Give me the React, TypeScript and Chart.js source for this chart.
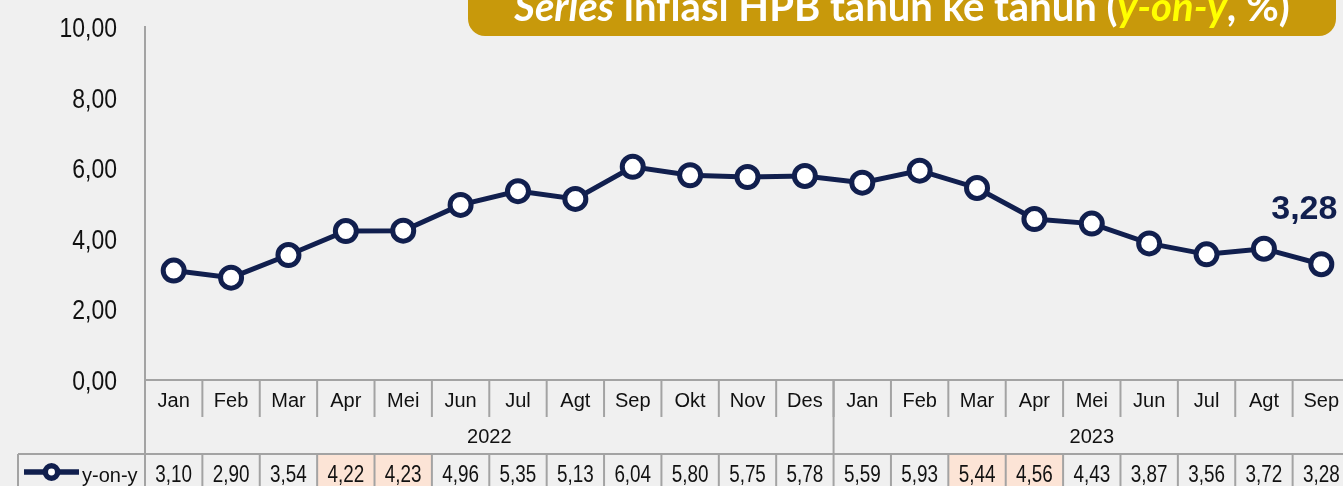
import React, { useEffect, useRef } from "react";
import { Chart, registerables } from "chart.js";

Chart.register(...registerables);

// ---- data ----
const months = ["Jan", "Feb", "Mar", "Apr", "Mei", "Jun", "Jul", "Agt", "Sep", "Okt", "Nov", "Des",
  "Jan", "Feb", "Mar", "Apr", "Mei", "Jun", "Jul", "Agt", "Sep"];
const years = ["2022", "2023"];
const yearSpans = [12, 9];
const yoyValues = [3.10, 2.90, 3.54, 4.22, 4.23, 4.96, 5.35, 5.13, 6.04, 5.80, 5.75, 5.78,
  5.59, 5.93, 5.44, 4.56, 4.43, 3.87, 3.56, 3.72, 3.28];
const highlightedIdx = [3, 4, 14, 15];
const yTicks = [0, 2, 4, 6, 8, 10];
const seriesName = "y-on-y";
const titleParts = [
  { text: "Series", italic: true, yellow: false },
  { text: " inflasi HPB tahun ke tahun (", italic: false, yellow: false },
  { text: "y-on-y", italic: true, yellow: true },
  { text: ", %)", italic: false, yellow: false },
];

const NAVY = "#111f4e";
const GRID = "#a3a3a3";
const BG = "#f0f0f0";
const SANS = '"Liberation Sans", Arial, sans-serif';
const NARROW_SCALE = 0.82;

const fmt = (v: number) => v.toFixed(2).replace(".", ",");

function narrowText(ctx: any, text: string, x: number, y: number, align: string) {
  ctx.save();
  ctx.translate(x, y);
  ctx.scale(NARROW_SCALE, 1);
  ctx.textAlign = align;
  ctx.fillText(text, 0, 0);
  ctx.restore();
}

const tablePlugin = {
  id: "dataTable",
  afterDatasetsDraw(chart: any) {
    const ctx = chart.ctx;
    const meta = chart.getDatasetMeta(0);
    const last = meta.data[meta.data.length - 1];
    if (!last) return;
    ctx.save();
    ctx.fillStyle = NAVY;
    ctx.font = `bold 34px ${SANS}`;
    ctx.textAlign = "center";
    ctx.textBaseline = "alphabetic";
    ctx.fillText(fmt(yoyValues[yoyValues.length - 1]), last.x - 17, last.y - 45);
    ctx.restore();
  },
  afterDraw(chart: any) {
    const ctx = chart.ctx;
    const xs = chart.scales.x;
    const ys = chart.scales.y;
    const ca = chart.chartArea;
    const H = chart.height;
    const n = months.length;
    const w = xs.getPixelForValue(1) - xs.getPixelForValue(0);
    const edge = (i: number) => xs.getPixelForValue(0) - w / 2 + i * w;
    const top = ca.bottom;
    const monthBottom = top + 37;
    const dataTop = top + 74;
    const legendLeft = 18;

    ctx.save();
    // y-axis tick labels
    ctx.fillStyle = "#111";
    ctx.textBaseline = "alphabetic";
    ctx.font = `28px ${SANS}`;
    yTicks.forEach((t) => narrowText(ctx, fmt(t), ca.left - 28, ys.getPixelForValue(t) + 10, "right"));

    // highlighted cells
    ctx.fillStyle = "#fce4d6";
    highlightedIdx.forEach((i) => {
      ctx.fillRect(edge(i), dataTop, w, H - dataTop);
    });

    ctx.strokeStyle = GRID;
    ctx.lineWidth = 2;
    const line = (x1: number, y1: number, x2: number, y2: number) => {
      ctx.beginPath();
      ctx.moveTo(x1, y1);
      ctx.lineTo(x2, y2);
      ctx.stroke();
    };
    line(edge(0), top, edge(n) + 20, top);
    line(edge(0), top, edge(0), H);
    for (let i = 1; i <= n; i++) line(edge(i), top, edge(i), monthBottom);
    let acc = 0;
    yearSpans.forEach((s, k) => {
      acc += s;
      if (k < yearSpans.length - 1) line(edge(acc), top, edge(acc), dataTop);
    });
    line(legendLeft, dataTop, edge(n) + 20, dataTop);
    line(legendLeft, dataTop, legendLeft, H);
    for (let i = 1; i <= n; i++) line(edge(i), dataTop, edge(i), H);

    // texts
    ctx.fillStyle = "#111";
    ctx.textAlign = "center";
    ctx.textBaseline = "alphabetic";
    ctx.font = `20px ${SANS}`;
    months.forEach((m, i) => ctx.fillText(m, edge(i) + w / 2, top + 27));
    acc = 0;
    yearSpans.forEach((s, k) => {
      const cx = (edge(acc) + edge(acc + s)) / 2;
      ctx.fillText(years[k], cx, top + 63);
      acc += s;
    });
    ctx.font = `23px ${SANS}`;
    yoyValues.forEach((v, i) => narrowText(ctx, fmt(v), edge(i) + w / 2, top + 101.5, "center"));

    // legend
    const ly = dataTop + 18;
    ctx.strokeStyle = NAVY;
    ctx.lineWidth = 5.5;
    line(24, ly, 79, ly);
    ctx.beginPath();
    ctx.arc(51.5, ly, 6.2, 0, Math.PI * 2);
    ctx.fillStyle = "#fff";
    ctx.fill();
    ctx.lineWidth = 5.5;
    ctx.stroke();
    ctx.fillStyle = "#111";
    ctx.textAlign = "left";
    ctx.font = `20px ${SANS}`;
    ctx.fillText(seriesName, 82, top + 101.5);
    ctx.restore();
  },
};

export default function App() {
  const ref = useRef<HTMLCanvasElement | null>(null);
  useEffect(() => {
    if (!ref.current) return;
    const chart = new Chart(ref.current, {
      type: "line",
      data: {
        labels: months,
        datasets: [
          {
            label: seriesName,
            data: yoyValues,
            borderColor: NAVY,
            borderWidth: 5,
            pointRadius: 10.5,
            pointHoverRadius: 10.5,
            pointBorderWidth: 5,
            pointBackgroundColor: "#ffffff",
            pointBorderColor: NAVY,
            tension: 0,
            clip: false,
          },
        ],
      },
      options: {
        animation: false,
        responsive: false,
        events: [],
        layout: { autoPadding: false, padding: { left: 0, top: 27, right: 10, bottom: 106 } },
        plugins: { legend: { display: false }, tooltip: { enabled: false }, title: { display: false } },
        scales: {
          x: { type: "category", offset: true, display: false },
          y: {
            min: 0,
            max: 10,
            afterBuildTicks: (scale: any) => {
              scale.ticks = yTicks.map((v) => ({ value: v }));
            },
            afterFit: (scale: any) => {
              scale.width = 145;
              scale.paddingTop = 0;
              scale.paddingBottom = 0;
            },
            grid: { display: false, drawTicks: false },
            border: { display: true, color: GRID, width: 2 },
            ticks: { display: false },
          },
        },
      },
      plugins: [tablePlugin],
    });
    return () => chart.destroy();
  }, []);

  return (
    <div
      style={{
        position: "fixed",
        left: 0,
        top: 0,
        width: 1343,
        height: 486,
        overflow: "hidden",
        background: BG,
      }}
    >
      <canvas ref={ref} width={1360} height={486} style={{ position: "absolute", left: 0, top: 0 }} />
      <div
        style={{
          position: "absolute",
          left: 468,
          top: -30,
          width: 868,
          height: 66,
          background: "#c8990b",
          borderRadius: 17,
          overflow: "hidden",
        }}
      >
        <div
          style={{
            position: "absolute",
            left: 0,
            right: 0,
            top: 16,
            textAlign: "center",
            fontFamily: 'Lato, "Open Sans", sans-serif',
            fontWeight: 700,
            fontSize: 40,
            lineHeight: "40px",
            color: "#ffffff",
            whiteSpace: "nowrap",
          }}
        >
          {titleParts.map((p, i) => (
            <span key={i} style={{ fontStyle: p.italic ? "italic" : "normal", color: p.yellow ? "#ffff00" : "#ffffff" }}>
              {p.text}
            </span>
          ))}
        </div>
      </div>
    </div>
  );
}
